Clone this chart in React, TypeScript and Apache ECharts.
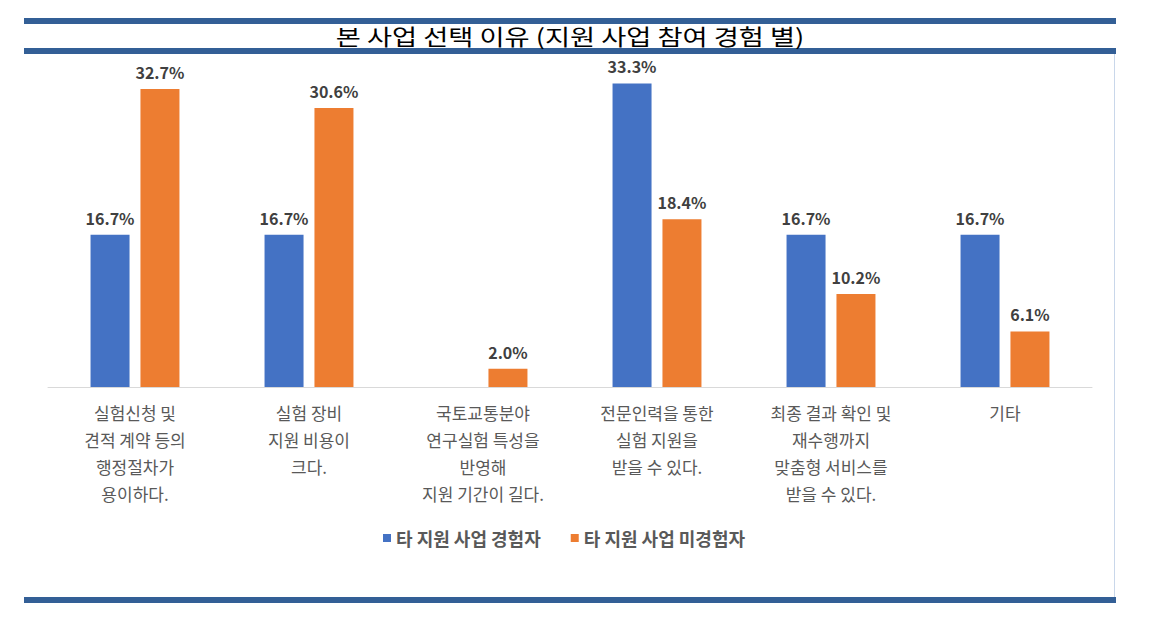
import React, { useEffect, useRef } from "react";
import * as echarts from "echarts";

const categories = [
  "실험신청 및\n견적 계약 등의\n행정절차가\n용이하다.",
  "실험 장비\n지원 비용이\n크다.",
  "국토교통분야\n연구실험 특성을\n반영해\n지원 기간이 길다.",
  "전문인력을 통한\n실험 지원을\n받을 수 있다.",
  "최종 결과 확인 및\n재수행까지\n맞춤형 서비스를\n받을 수 있다.",
  "기타",
];
const seriesNames = ["타 지원 사업 경험자", "타 지원 사업 미경험자"];
const experienced: (number | null)[] = [16.7, 16.7, null, 33.3, 16.7, 16.7];
const inexperienced: number[] = [32.7, 30.6, 2.0, 18.4, 10.2, 6.1];
const title = "본 사업 선택 이유 (지원 사업 참여 경험 별)";

const FONT = "'Noto Sans CJK KR', 'Noto Sans', sans-serif";

export default function App() {
  const ref = useRef<HTMLDivElement>(null);
  useEffect(() => {
    document.body.style.margin = "0";
    const chart = echarts.init(ref.current!, null, { renderer: "svg" });
    const label = {
      show: true,
      position: "top" as const,
      distance: 9,
      color: "#404040",
      fontWeight: "bold" as const,
      fontSize: 16,
      fontFamily: FONT,
      formatter: (p: any) => (p.value == null ? "" : Number(p.value).toFixed(1) + "%"),
    };
    chart.setOption({
      animation: false,
      backgroundColor: "#ffffff",
      graphic: [
        { type: "rect", shape: { x: 24, y: 18, width: 1092, height: 6 }, style: { fill: "#335F96" } },
        { type: "rect", shape: { x: 24, y: 48, width: 1092, height: 6 }, style: { fill: "#335F96" } },
        { type: "rect", shape: { x: 24, y: 597, width: 1092, height: 6 }, style: { fill: "#335F96" } },
        { type: "line", shape: { x1: 1114.5, y1: 54, x2: 1114.5, y2: 597 }, style: { stroke: "#C9D7EA", lineWidth: 1 } },
        {
          type: "text",
          x: 570,
          y: 35,
          scaleX: 1.24,
          style: {
            text: title,
            fill: "#000000",
            font: "22px " + FONT,
            textAlign: "center",
            textVerticalAlign: "middle",
          },
        },
      ],
      legend: {
        data: seriesNames,
        left: 378,
        top: 524,
        icon: "rect",
        itemWidth: 8,
        itemHeight: 8,
        itemGap: 30,
        textStyle: { color: "#595959", fontSize: 18, fontWeight: "bold", fontFamily: FONT },
      },
      grid: { left: 48, right: 58, top: 68, height: 319, containLabel: false },
      xAxis: {
        type: "category",
        data: categories,
        axisLine: { show: true, lineStyle: { color: "#D9D9D9" } },
        axisTick: { show: false },
        axisLabel: {
          color: "#595959",
          fontSize: 17,
          lineHeight: 27,
          fontFamily: FONT,
          margin: 12,
          interval: 0,
        },
      },
      yAxis: {
        type: "value",
        min: 0,
        max: 35,
        show: false,
        splitLine: { show: false },
      },
      series: [
        {
          name: seriesNames[0],
          type: "bar",
          data: experienced,
          barWidth: 39,
          barGap: "28%",
          itemStyle: { color: "#4472C4" },
          label,
        },
        {
          name: seriesNames[1],
          type: "bar",
          data: inexperienced,
          barWidth: 39,
          itemStyle: { color: "#ED7D31" },
          label,
        },
      ],
    });
    return () => chart.dispose();
  }, []);
  return <div ref={ref} style={{ width: 1150, height: 623 }} />;
}
